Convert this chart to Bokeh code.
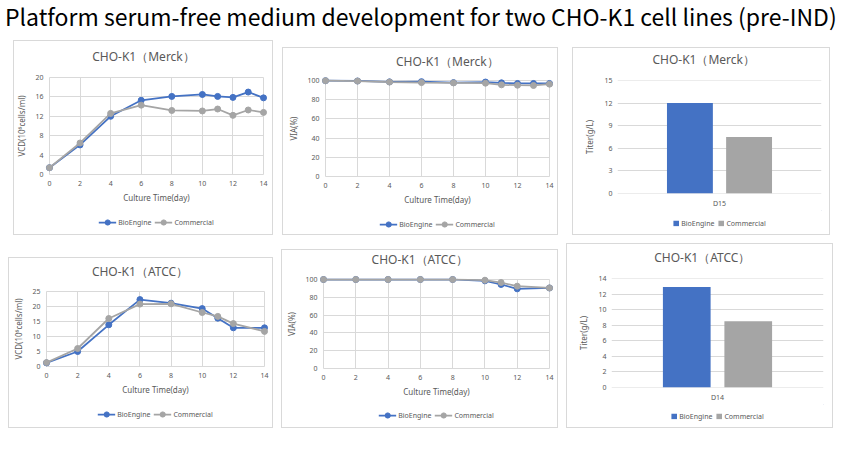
from bokeh.plotting import figure
from bokeh.models import (Range1d, FactorRange, FixedTicker, Legend, LegendItem,
                          Div, Spacer, ColumnDataSource)
from bokeh.layouts import row, column
from bokeh.transform import dodge
from bokeh.embed import file_html
from bokeh.resources import INLINE

# ---------------- data ----------------
main_title = "Platform serum-free medium development for two CHO-K1 cell lines (pre-IND)"
series_names = ["BioEngine", "Commercial"]
x_label = "Culture Time(day)"
vcd_label = "VCD(10\u2076cells/ml)"
via_label = "VIA(%)"
titer_label = "Titer(g/L)"
title_merck = "CHO-K1\uff08Merck\uff09"
title_atcc = "CHO-K1\uff08ATCC\uff09"

day_ticks = [0, 2, 4, 6, 8, 10, 12, 14]

days_merck = [0, 2, 4, 6, 8, 10, 11, 12, 13, 14]
vcd_merck_bio = [1.4, 6.1, 12.0, 15.3, 16.1, 16.5, 16.1, 15.9, 17.0, 15.8]
vcd_merck_com = [1.4, 6.5, 12.6, 14.3, 13.2, 13.1, 13.5, 12.2, 13.3, 12.8]
via_merck_bio = [99.8, 99.5, 98.6, 98.8, 97.8, 98.4, 97.6, 96.9, 96.9, 96.9]
via_merck_com = [99.8, 99.4, 98.4, 97.8, 97.5, 97.2, 95.5, 95.1, 94.8, 96.2]

days_atcc = [0, 2, 4, 6, 8, 10, 11, 12, 14]
vcd_atcc_bio = [1.2, 5.0, 13.9, 22.3, 21.1, 19.3, 16.1, 12.9, 12.9]
vcd_atcc_com = [1.3, 6.0, 16.0, 20.8, 20.9, 18.0, 16.7, 14.3, 11.7]
via_atcc_bio = [100, 100, 100, 100, 100, 98.5, 94.4, 89.5, 90.5]
via_atcc_com = [100, 100, 100, 100, 100, 99.2, 96.6, 92.5, 90.5]

vcd_merck_ticks = [0, 4, 8, 12, 16, 20]
vcd_atcc_ticks = [0, 5, 10, 15, 20, 25]
via_ticks = [0, 20, 40, 60, 80, 100]

titer_merck_day = "D15"
titer_merck = [12.0, 7.5]
titer_merck_ticks = [0, 3, 6, 9, 12, 15]
titer_atcc_day = "D14"
titer_atcc = [12.9, 8.5]
titer_atcc_ticks = [0, 2, 4, 6, 8, 10, 12, 14]

# ---------------- style ----------------
FONT = "Noto Sans"
TXT = "#595959"
GRID = "#d9d9d9"
BLUE = "#4472C4"
GRAY = "#A5A5A5"
PANEL_STYLE = {"outline": "1px solid #d9d9d9", "outline-offset": "-1px"}


def chart_title(text, W, Th, cx, cy):
    html = ('<div style="position:relative;width:%dpx;height:%dpx;">'
            '<span style="position:absolute;left:%.1fpx;top:%.1fpx;transform:translate(-50%%,-50%%);'
            'font-family:\'Noto Sans\';font-size:12px;line-height:1;'
            'color:#595959;white-space:nowrap;">%s</span></div>') % (W, Th, cx, cy, text)
    return Div(text=html, width=W, height=Th, margin=0)


def base_figure(W, H, borders, x_range, y_range):
    l, r, t, b = borders
    p = figure(width=W, height=H, x_range=x_range, y_range=y_range,
               min_border_left=l, min_border_right=r, min_border_top=t, min_border_bottom=b,
               output_backend="svg", toolbar_location=None, tools="",
               border_fill_color=None, background_fill_color=None,
               outline_line_color=None)
    for ax in p.axis:
        ax.major_tick_line_color = None
        ax.minor_tick_line_color = None
        ax.axis_line_color = None
        ax.major_tick_out = 0
        ax.major_tick_in = 0
        ax.major_label_text_font = FONT
        ax.major_label_text_font_size = "7px"
        ax.major_label_text_color = TXT
        ax.axis_label_text_font = FONT
        ax.axis_label_text_font_size = "8px"
        ax.axis_label_text_font_style = "normal"
        ax.axis_label_text_color = TXT
    return p


def legend_strip(W, h, kind, src):
    """Bottom strip of a panel holding the legend; series renderers sit outside its view."""
    lf = figure(width=W, height=h, x_axis_type=None, y_axis_type=None,
                x_range=Range1d(-2, -1), y_range=Range1d(-2, -1), min_border=0,
                output_backend="svg", toolbar_location=None, tools="",
                border_fill_color=None, background_fill_color=None, outline_line_color=None)
    items = []
    for name, col, fld in zip(series_names, [BLUE, GRAY], ["bio", "com"]):
        if kind == "line":
            rl = lf.line("day", fld, source=src, line_color=col, line_width=1.75)
            rs = lf.scatter("day", fld, source=src, size=6, fill_color=col, line_color=col)
            items.append(LegendItem(label=name, renderers=[rl, rs]))
        else:
            rb = lf.vbar(x=fld, top=fld, bottom=fld, width=0.1, source=src,
                         fill_color=col, line_color=None)
            items.append(LegendItem(label=name, renderers=[rb]))
    lg = Legend(items=items, location="center", orientation="horizontal")
    lg.label_text_font = FONT
    lg.label_text_font_size = "7px"
    lg.label_text_color = TXT
    lg.glyph_width = 18 if kind == "line" else 7
    lg.glyph_height = 13 if kind == "line" else 7
    lg.label_standoff = 2
    lg.spacing = 3
    lg.padding = 0
    lg.margin = 0
    lg.label_height = 8
    lg.label_width = 10
    lg.border_line_color = None
    lg.background_fill_alpha = 0
    lf.add_layout(lg)
    return lf


def line_panel(title, days, bio, com, yticks, ylabel, W, H, borders,
               title_pos, LH):
    PAD = 5
    l, r, t, b = borders
    Th = t - 4
    fw = W - l - r
    fh = H - t - b
    x0, x1 = day_ticks[0], day_ticks[-1]
    y0, y1 = yticks[0], yticks[-1]
    dx = (x1 - x0) * PAD / (fw - 2 * PAD)
    dy = (y1 - y0) * PAD / (fh - 2 * PAD)
    p = base_figure(W, H - Th - LH, (l, r, t - Th, b - LH), Range1d(x0 - dx, x1 + dx),
                    Range1d(y0 - dy, y1 + dy))
    p.xaxis.ticker = FixedTicker(ticks=day_ticks)
    p.yaxis.ticker = FixedTicker(ticks=yticks)
    p.xaxis.axis_label = x_label
    p.yaxis.axis_label = ylabel
    p.xaxis.major_label_standoff = 1
    p.yaxis.major_label_standoff = 1
    p.xaxis.axis_label_standoff = 3
    p.yaxis.axis_label_standoff = 5
    p.xgrid.grid_line_color = GRID
    p.ygrid.grid_line_color = GRID
    p.xgrid.cross_bounds = (y0, y1)
    p.ygrid.cross_bounds = (x0, x1)

    src = ColumnDataSource(dict(day=days, bio=bio, com=com))
    p.line("day", "bio", source=src, line_color=BLUE, line_width=1.75)
    p.scatter("day", "bio", source=src, size=6, fill_color=BLUE, line_color=BLUE)
    p.line("day", "com", source=src, line_color=GRAY, line_width=1.75)
    p.scatter("day", "com", source=src, size=6, fill_color=GRAY, line_color=GRAY)
    td = chart_title(title, W, Th, title_pos[0], title_pos[1])
    lf = legend_strip(W, LH, "line", src)
    return column(td, p, lf, styles=PANEL_STYLE)


def bar_panel(title, cat, vals, yticks, W, H, borders, title_pos, LH):
    eps = 1e-6
    l, r, t, b = borders
    Th = t - 6
    p = base_figure(W, H - Th - LH, (l, r, t - Th, b - LH), FactorRange(factors=[cat]),
                    Range1d(yticks[0] - eps, yticks[-1] + eps))
    p.yaxis.ticker = FixedTicker(ticks=yticks)
    p.yaxis.axis_label = titer_label
    p.yaxis.major_label_standoff = 5
    p.yaxis.axis_label_standoff = 6
    p.xaxis.major_label_standoff = 5
    p.xaxis.separator_line_color = None
    p.xgrid.grid_line_color = None
    p.ygrid.grid_line_color = GRID
    src = ColumnDataSource(dict(x=[cat], bio=[vals[0]], com=[vals[1]]))
    p.vbar(x=dodge("x", -0.145, range=p.x_range), top="bio", width=0.225,
           source=src, fill_color=BLUE, line_color=None)
    p.vbar(x=dodge("x", 0.145, range=p.x_range), top="com", width=0.225,
           source=src, fill_color=GRAY, line_color=None)
    td = chart_title(title, W, Th, title_pos[0], title_pos[1])
    lf = legend_strip(W, LH, "bar", src)
    return column(td, p, lf, styles=PANEL_STYLE)


p1 = line_panel(title_merck, days_merck, vcd_merck_bio, vcd_merck_com, vcd_merck_ticks,
                vcd_label, 260, 195, (30, 5, 32, 56), (130.5, 17), 26)
p2 = line_panel(title_merck, days_merck, via_merck_bio, via_merck_com, via_ticks,
                via_label, 276, 188, (38, 4, 28, 54), (165.3, 15.3), 23)
p3 = bar_panel(title_merck, titer_merck_day, titer_merck, titer_merck_ticks,
               258, 188, (45, 9, 33, 42), (131.7, 13), 25)
p4 = line_panel(title_atcc, days_atcc, vcd_atcc_bio, vcd_atcc_com, vcd_atcc_ticks,
                vcd_label, 265, 171, (33, 4, 29, 57), (132, 14.7), 29)
p5 = line_panel(title_atcc, days_atcc, via_atcc_bio, via_atcc_com, via_ticks,
                via_label, 277, 179, (37, 4, 25, 55), (138.7, 11), 27)
p6 = bar_panel(title_atcc, titer_atcc_day, titer_atcc, titer_atcc_ticks,
               267, 185, (45, 10, 35, 41), (136.3, 15.3), 24)

title_div = Div(
    text=('<div style="font-family:\'Noto Sans CJK SC\';font-size:23px;line-height:32px;'
          'white-space:nowrap;color:#000;padding-left:5px;">' + main_title + '</div>'),
    width=841, height=40, margin=0,
    styles={"overflow": "hidden", "white-space": "nowrap"})


def sp(w, h):
    return Spacer(width=w, height=h, margin=0)


top_row = row(sp(13, 195), p1, sp(9, 195), column(sp(276, 7), p2), sp(14, 195),
              column(sp(258, 7), p3))
bot_row = row(sp(8, 193), column(sp(265, 22), p4), sp(8, 193), column(sp(277, 14), p5),
              sp(8, 193), column(sp(267, 8), p6))
layout = column(title_div, top_row, bot_row)

open("out.html", "w").write(file_html(layout, INLINE))
